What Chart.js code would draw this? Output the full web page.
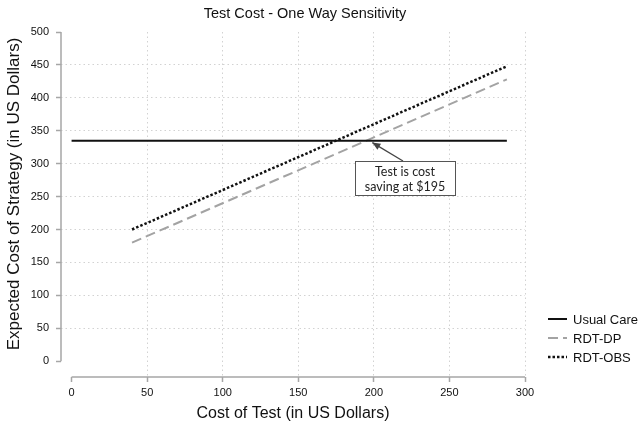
<!DOCTYPE html>
<html>
<head>
<meta charset="utf-8">
<script src="https://cdn.jsdelivr.net/npm/chart.js@4"></script>
<style>
  html, body { margin: 0; padding: 0; background: #fff; }
</style>
</head>
<body>
<canvas id="myChart" width="642" height="424"></canvas>
<script>
// Values
const usualCareX = [0, 288];      // Usual Care line (flat)
const usualCare = [335, 335];
const testCost = [40, 288];       // RDT lines
const rdtDp = [180, 428];
const rdtObs = [200, 448];
const xTicks = [0, 50, 100, 150, 200, 250, 300];
const yTicks = [0, 50, 100, 150, 200, 250, 300, 350, 400, 450, 500];

const FONT = '"Liberation Sans", Arial, Helvetica, sans-serif';
Chart.defaults.font.family = FONT;

const toPoints = (xs, ys) => xs.map((v, i) => ({ x: v, y: ys[i] }));

// title, y title, offset axis lines, legend and the call-out box
const decor = {
  id: 'decor',
  afterDraw(chart) {
    const { ctx, chartArea, scales: { x, y } } = chart;
    ctx.save();
    ctx.fillStyle = '#111';
    ctx.textAlign = 'center';
    ctx.textBaseline = 'middle';
    ctx.font = '14.5px ' + FONT;
    ctx.fillText('Test Cost - One Way Sensitivity', 305, 14);

    ctx.save();
    ctx.translate(14, 194);
    ctx.rotate(-Math.PI / 2);
    ctx.font = '17px ' + FONT;
    ctx.fillText('Expected Cost of Strategy (in US Dollars)', 0, 0);
    ctx.restore();

    // axis lines only span the data range (Stata style)
    ctx.strokeStyle = '#a6a6a6';
    ctx.lineWidth = 1.5;
    ctx.beginPath();
    ctx.moveTo(chartArea.left, y.getPixelForValue(yTicks[yTicks.length - 1]));
    ctx.lineTo(chartArea.left, y.getPixelForValue(yTicks[0]));
    ctx.moveTo(x.getPixelForValue(xTicks[0]), chartArea.bottom);
    ctx.lineTo(x.getPixelForValue(xTicks[xTicks.length - 1]), chartArea.bottom);
    ctx.stroke();

    // legend
    ctx.textAlign = 'left';
    ctx.font = '13px ' + FONT;
    chart.data.datasets.forEach((ds, i) => {
      const ly = 319 + i * 19;
      ctx.strokeStyle = ds.borderColor;
      ctx.lineWidth = ds.borderWidth;
      ctx.setLineDash(ds.borderDash || []);
      ctx.beginPath();
      ctx.moveTo(548, ly);
      ctx.lineTo(567, ly);
      ctx.stroke();
      ctx.setLineDash([]);
      ctx.fillStyle = '#111';
      ctx.fillText(ds.label, 573, ly + 1);
    });

    // call-out
    const tipX = x.getPixelForValue(199), tipY = y.getPixelForValue(332);
    const fromX = 403, fromY = 161;
    ctx.strokeStyle = '#444';
    ctx.fillStyle = '#444';
    ctx.lineWidth = 1.3;
    ctx.beginPath();
    ctx.moveTo(fromX, fromY);
    ctx.lineTo(tipX, tipY);
    ctx.stroke();
    const ang = Math.atan2(tipY - fromY, tipX - fromX);
    ctx.beginPath();
    ctx.moveTo(tipX, tipY);
    ctx.lineTo(tipX - 8 * Math.cos(ang) + 3.5 * Math.sin(ang), tipY - 8 * Math.sin(ang) - 3.5 * Math.cos(ang));
    ctx.lineTo(tipX - 8 * Math.cos(ang) - 3.5 * Math.sin(ang), tipY - 8 * Math.sin(ang) + 3.5 * Math.cos(ang));
    ctx.closePath();
    ctx.fill();

    ctx.fillStyle = '#fff';
    ctx.fillRect(355, 161, 100, 34);
    ctx.strokeStyle = '#555';
    ctx.lineWidth = 1;
    ctx.strokeRect(355.5, 161.5, 100, 34);
    ctx.fillStyle = '#222';
    ctx.textAlign = 'center';
    ctx.font = '12.5px Lato, "Open Sans", sans-serif';
    ctx.fillText('Test is cost', 405, 172);
    ctx.fillText('saving at $195', 405, 187);
    ctx.restore();
  }
};

const gridColor = (lo, hi) => c => (c.tick && c.tick.value > lo && c.tick.value < hi) ? '#d2d2d2' : 'rgba(0,0,0,0)';

new Chart(document.getElementById('myChart'), {
  type: 'line',
  data: {
    datasets: [
      {
        label: 'Usual Care',
        data: toPoints(usualCareX, usualCare),
        borderColor: '#111',
        borderWidth: 2,
        pointRadius: 0,
      },
      {
        label: 'RDT-DP',
        data: toPoints(testCost, rdtDp),
        borderColor: '#a3a3a3',
        borderWidth: 2,
        borderDash: [10, 5],
        pointRadius: 0,
      },
      {
        label: 'RDT-OBS',
        data: toPoints(testCost, rdtObs),
        borderColor: '#111',
        borderWidth: 2.5,
        borderDash: [2.5, 2],
        pointRadius: 0,
      },
    ],
  },
  options: {
    responsive: false,
    animation: false,
    layout: { padding: { top: 32, right: 117, left: 0, bottom: 0 } },
    plugins: { legend: { display: false }, title: { display: false }, tooltip: { enabled: false } },
    scales: {
      x: {
        type: 'linear',
        min: -7,
        max: 300,
        afterBuildTicks: s => { s.ticks = xTicks.map(v => ({ value: v })); },
        afterFit: s => { s.height = 47; },
        grid: { color: gridColor(0, 301), lineWidth: 1, tickLength: 5, tickColor: '#a6a6a6', tickWidth: 1.5 },
        border: { display: false, dash: [1.5, 3] },
        ticks: { color: '#111', font: { size: 11 }, padding: 4, maxRotation: 0, autoSkip: false },
        title: { display: true, text: 'Cost of Test (in US Dollars)', color: '#111', font: { size: 16 }, padding: { top: 0, bottom: 1 } },
      },
      y: {
        min: -24,
        max: 500,
        afterBuildTicks: s => { s.ticks = yTicks.map(v => ({ value: v })); },
        afterFit: s => { s.width = 61; },
        grid: { color: gridColor(0, 500), lineWidth: 1, tickLength: 5, tickColor: '#a6a6a6', tickWidth: 1.5 },
        border: { display: false, dash: [1.5, 3] },
        ticks: { color: '#111', font: { size: 11 }, padding: 7, autoSkip: false },
      },
    },
  },
  plugins: [decor],
});
</script>
</body>
</html>
